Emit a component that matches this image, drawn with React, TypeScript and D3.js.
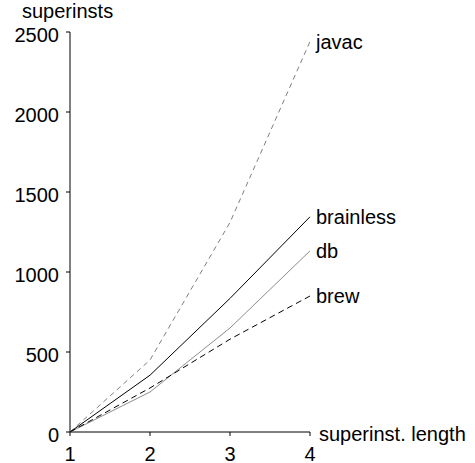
import React from 'react';
import * as d3 from 'd3';

// superinstruction lengths on the x axis
const lengths = [1, 2, 3, 4];
const yTicks = [0, 500, 1000, 1500, 2000, 2500];

// number of superinstructions per benchmark
const javac = [0, 450, 1310, 2440];
const brainless = [0, 355, 835, 1345];
const db = [0, 250, 650, 1132];
const brew = [0, 275, 580, 850];

const seriesNames = ['javac', 'brainless', 'db', 'brew'];
const seriesValues = [javac, brainless, db, brew];
const seriesStroke = ['#7f7f7f', '#000000', '#8c8c8c', '#000000'];
const seriesDash = ['5,4', null, null, '6,4'];

const W = 475, H = 463;
const font = 'Liberation Sans, Arial, Helvetica, sans-serif';

const App = () => {
	const x = d3.scaleLinear().domain([1, 4]).range([70, 310]);
	const y = d3.scaleLinear().domain([0, 2500]).range([432, 32]);

	const line = d3
		.line<number>()
		.x((d, i) => x(lengths[i]))
		.y((d) => y(d));

	return (
		<svg
			width={W}
			height={H}
			style={{ position: 'absolute', left: 0, top: 0, background: '#fff' }}
			fontFamily={font}
			fontSize={20}
		>
			{/* y axis */}
			<line x1={x(1)} x2={x(1)} y1={y(0)} y2={y(2500)} stroke="#000" />
			{yTicks.map((t) => (
				<g key={t}>
					<line x1={x(1) - 4} x2={x(1)} y1={y(t)} y2={y(t)} stroke="#000" />
					<text x={x(1) - 11} y={y(t) + 10} textAnchor="end">
						{t}
					</text>
				</g>
			))}
			<text x={22} y={18}>superinsts</text>

			{/* x axis */}
			<line x1={x(1)} x2={x(4)} y1={y(0)} y2={y(0)} stroke="#000" />
			{lengths.map((t) => (
				<g key={t}>
					<line x1={x(t)} x2={x(t)} y1={y(0)} y2={y(0) + 4} stroke="#000" />
					<text x={x(t)} y={461} textAnchor="middle">
						{t}
					</text>
				</g>
			))}
			<text x={319} y={441}>superinst. length</text>

			{/* series */}
			{seriesValues.map((vals, k) => (
				<g key={seriesNames[k]}>
					<path
						d={line(vals) || ''}
						fill="none"
						stroke={seriesStroke[k]}
						strokeWidth={1}
						strokeDasharray={seriesDash[k] || undefined}
					/>
					<text x={x(4) + 6} y={y(vals[vals.length - 1]) + 7}>
						{seriesNames[k]}
					</text>
				</g>
			))}
		</svg>
	);
};

export default App;
